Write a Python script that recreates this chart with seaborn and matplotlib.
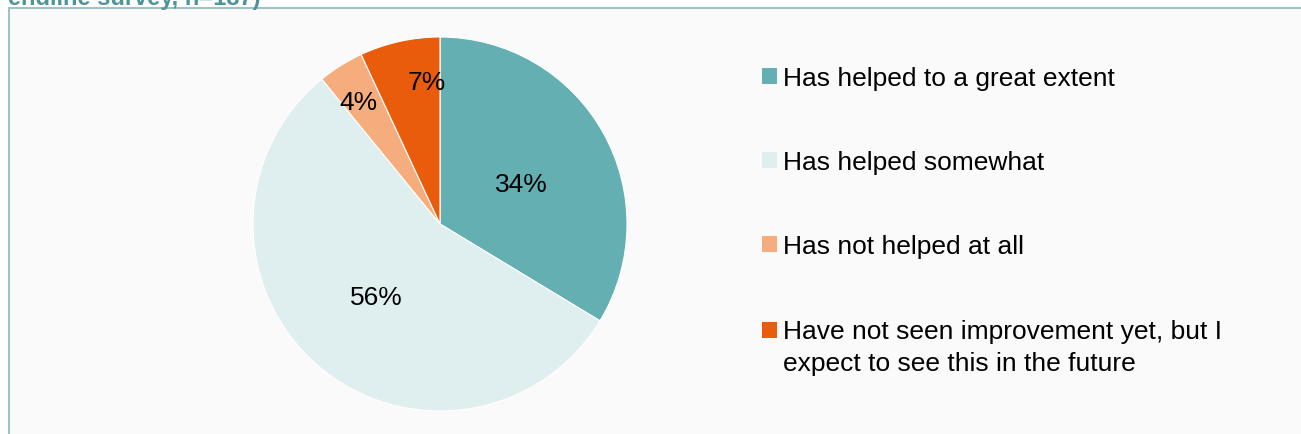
import matplotlib
matplotlib.use("Agg")
import numpy as np
import matplotlib.pyplot as plt
from matplotlib.patches import Rectangle, Patch
import seaborn as sns

# Survey responses (share of respondents, %)
categories = [
    "Has helped to a great extent",
    "Has helped somewhat",
    "Has not helped at all",
    "Have not seen improvement yet, but I\nexpect to see this in the future",
]
shares = [34, 56, 4, 7]
pct_labels = ["34%", "56%", "4%", "7%"]
title_text = "endline survey, n=187)"

colors = ["#64AFB2", "#DFEEEE", "#F5AD7E", "#E95C0B"]
# radial distance and angular nudge (degrees) for each percentage label
label_dist = [0.485, 0.52, 0.786, 0.764]
label_turn = [-3.4, 0.0, 1.7, -7.3]

sns.set_theme(style="white")
plt.rcParams["font.family"] = ["Liberation Sans", "DejaVu Sans"]
plt.rcParams["text.color"] = "black"

W, H = 1301, 435
fig = plt.figure(figsize=(W / 100, H / 100), dpi=100)
fig.patch.set_facecolor("white")

# Framed panel
frame = Rectangle((8.5 / W, -0.1), 1.2, (H - 9) / H + 0.1, transform=fig.transFigure,
                  facecolor="#FAFAFA", edgecolor="#9EC3C1", linewidth=1.5, zorder=-5)
fig.patches.append(frame)

# Partially visible heading above the frame
fig.text(8 / W, (H - 5) / H, title_text, ha="left", va="baseline",
         fontsize=17, fontweight="bold", color="#4F9497")

cx, cy, r = 440, 225, 187
ax = fig.add_axes([(cx - r) / W, (H - cy - r) / H, 2 * r / W, 2 * r / H], zorder=2)
ax.set_facecolor("none")
wedges, _ = ax.pie(shares, colors=colors, startangle=90, counterclock=False,
                   radius=1, wedgeprops=dict(edgecolor="white", linewidth=0.8))
ax.set_xlim(-1, 1)
ax.set_ylim(-1, 1)
ax.set_aspect("auto")
ax.axis("off")

for w, lab, d, t in zip(wedges, pct_labels, label_dist, label_turn):
    ang = np.deg2rad((w.theta1 + w.theta2) / 2 + t)
    ax.text(d * np.cos(ang), d * np.sin(ang), lab, ha="center", va="center",
            fontsize=19, color="black")

handles = [Patch(facecolor=c, edgecolor="none") for c in colors]
leg = fig.legend(handles, categories, loc="upper left",
                 bbox_to_anchor=(762 / W, (H - 67) / H), frameon=False,
                 fontsize=19, handlelength=0.55, handleheight=0.55,
                 handletextpad=0.25, labelspacing=2.28, borderpad=0, borderaxespad=0)
for txt in leg.get_texts():
    txt.set_linespacing(1.45)

# Align the swatch of the two-line entry with its first line
last = leg.legend_handles[-1]
last.set_y(last.get_y() + 12.5)

fig.savefig("out.png", dpi=100, facecolor="white")
